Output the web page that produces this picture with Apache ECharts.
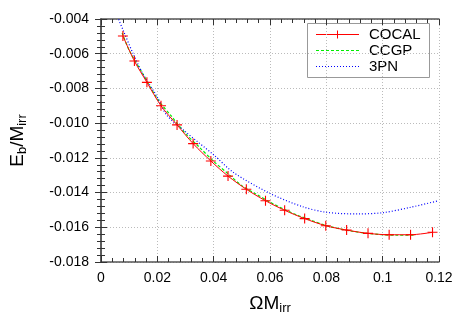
<!DOCTYPE html>
<html><head><meta charset="utf-8">
<script src="https://cdn.jsdelivr.net/npm/echarts@6/dist/echarts.min.js"></script>
<style>html,body{margin:0;padding:0;background:#fff}#c{width:467px;height:327px}</style>
</head><body><div id="c"></div>
<script>
// Data
const cocalX = [0.00778,0.01186,0.0163,0.0213,0.0270,0.0327,0.0390,0.0451,0.0516,0.0584,0.0652,0.0723,0.0798,0.0872,0.0948,0.1023,0.1099,0.1177];
const cocalY = [-0.00498,-0.00642,-0.00765,-0.0090,-0.0101,-0.01118,-0.01218,-0.01305,-0.01381,-0.01447,-0.01502,-0.0155,-0.01591,-0.01616,-0.01635,-0.01643,-0.01643,-0.01629];
const ccgpX = [0.0075,0.010,0.015,0.020,0.025,0.030,0.035,0.040,0.045,0.050,0.055,0.060,0.065,0.070,0.075,0.080,0.085,0.090,0.095,0.100,0.105,0.111];
const ccgpY = [-0.0048,-0.0058,-0.0072,-0.0086,-0.0096,-0.0106,-0.0114,-0.0122,-0.0129,-0.0136,-0.01408,-0.01455,-0.01496,-0.01532,-0.01562,-0.0159,-0.0161,-0.01625,-0.01636,-0.01643,-0.01646,-0.01646];
const pnX = [0.0055,0.0062,0.008,0.0116,0.015,0.020,0.0233,0.030,0.0401,0.0471,0.0599,0.0715,0.0802,0.0913,0.1000,0.1099,0.1198];
const pnY = [-0.0037,-0.0040,-0.0047,-0.00607,-0.0072,-0.0085,-0.00953,-0.0105,-0.01184,-0.01285,-0.01404,-0.01481,-0.01514,-0.01523,-0.01516,-0.01485,-0.01447];
const seriesNames = ['COCAL','CCGP','3PN'];
const xTicks = {min:0, max:0.12, interval:0.02};
const yTicks = {min:-0.018, max:-0.004, interval:0.002};

const zip = (xs, ys) => xs.map((x,i)=>[x, ys[i]]);
const plus = 'path://M4.45,0H5.55V4.45H10V5.55H5.55V10H4.45V5.55H0V4.45H4.45Z';
const font = 'Liberation Sans, Arial, sans-serif';
const frameColor = '#555';
const red = '#ff0000', green = '#00ee00', blue = '#0000ff';
const dashes = [null, [3,2], [1,2]];
const colors = [red, green, blue];

function axisBase(show) {
  return {
    axisLine: {show: true, lineStyle: {color: frameColor, width: 1.5}},
    axisTick: {show: true, inside: true, length: 6, lineStyle: {color: '#333', width: 1}},
    minorTick: {show: true, splitNumber: 5, length: 4, lineStyle: {color: '#333', width: 1}},
    splitLine: {show: show, lineStyle: {color: '#bbb', type: [1,2], width: 1}},
    minorSplitLine: {show: false}
  };
}

// Legend drawn as graphic elements (box, line samples, labels)
const legendChildren = [
  {type: 'rect', shape: {x: 0.5, y: 0.5, width: 122, height: 54}, style: {fill: '#fff', stroke: '#999', lineWidth: 1}}
];
seriesNames.forEach((name, i) => {
  const cy = 11.5 + i * 16;
  const ls = {stroke: colors[i], lineWidth: i === 0 ? 1 : 1.2};
  if (dashes[i]) ls.lineDash = dashes[i];
  legendChildren.push({type: 'line', shape: {x1: 9, y1: cy, x2: 52, y2: cy}, style: ls});
  if (i === 0) {
    legendChildren.push({type: 'line', shape: {x1: 30.5, y1: cy - 4, x2: 30.5, y2: cy + 4}, style: {stroke: colors[i], lineWidth: 1}});
  }
  legendChildren.push({type: 'text', style: {text: name, x: 62, y: cy + 0.5, fill: '#000', fontSize: 15, fontFamily: font, verticalAlign: 'middle', textVerticalAlign: 'middle'}});
});

const chart = echarts.init(document.getElementById('c'), null, {renderer: 'canvas'});
chart.setOption({
  animation: false,
  backgroundColor: '#fff',
  grid: {left: 95, right: 28, top: 19, bottom: 65},
  graphic: [{type: 'group', left: 307, top: 23, z: 100, children: legendChildren}],
  xAxis: [
    Object.assign({type: 'value', position: 'bottom', min: xTicks.min, max: xTicks.max, interval: xTicks.interval,
      axisLabel: {fontFamily: font, fontSize: 14, color: '#000', margin: 9},
      name: '{a|ΩM}{s|irr}', nameLocation: 'middle', nameGap: 30,
      nameTextStyle: {rich: {a: {fontFamily: font, fontSize: 19, color: '#000'}, s: {fontFamily: font, fontSize: 13, color: '#000', padding: [10,0,0,0]}}}
    }, axisBase(true)),
    Object.assign({type: 'value', position: 'top', min: xTicks.min, max: xTicks.max, interval: xTicks.interval,
      axisLabel: {show: false}}, axisBase(false))
  ],
  yAxis: [
    Object.assign({type: 'value', position: 'left', min: yTicks.min, max: yTicks.max, interval: yTicks.interval,
      axisLabel: {fontFamily: font, fontSize: 14, color: '#000', margin: 12, formatter: v => v.toFixed(3)},
      name: '{a|E}{s|b}{a|/M}{s|irr}', nameLocation: 'middle', nameGap: 72, nameRotate: 90,
      nameTextStyle: {rich: {a: {fontFamily: font, fontSize: 19, color: '#000'}, s: {fontFamily: font, fontSize: 13, color: '#000', padding: [10,0,0,0]}}}
    }, axisBase(true)),
    Object.assign({type: 'value', position: 'right', min: yTicks.min, max: yTicks.max, interval: yTicks.interval,
      axisLabel: {show: false}}, axisBase(false))
  ],
  series: [
    {name: seriesNames[0], type: 'line', data: zip(cocalX, cocalY), smooth: 0.3,
      symbol: plus, symbolSize: 10, showSymbol: true,
      itemStyle: {color: red}, lineStyle: {color: red, width: 1}, z: 3},
    {name: seriesNames[1], type: 'line', data: zip(ccgpX, ccgpY), smooth: 0.3, showSymbol: false, symbol: 'none',
      itemStyle: {color: green}, lineStyle: {color: green, width: 1.2, type: [3,2]}, z: 2},
    {name: seriesNames[2], type: 'line', data: zip(pnX, pnY), smooth: 0.3, showSymbol: false, symbol: 'none', clip: true,
      itemStyle: {color: blue}, lineStyle: {color: blue, width: 1.2, type: [1,2]}, z: 2}
  ]
});
</script></body></html>
